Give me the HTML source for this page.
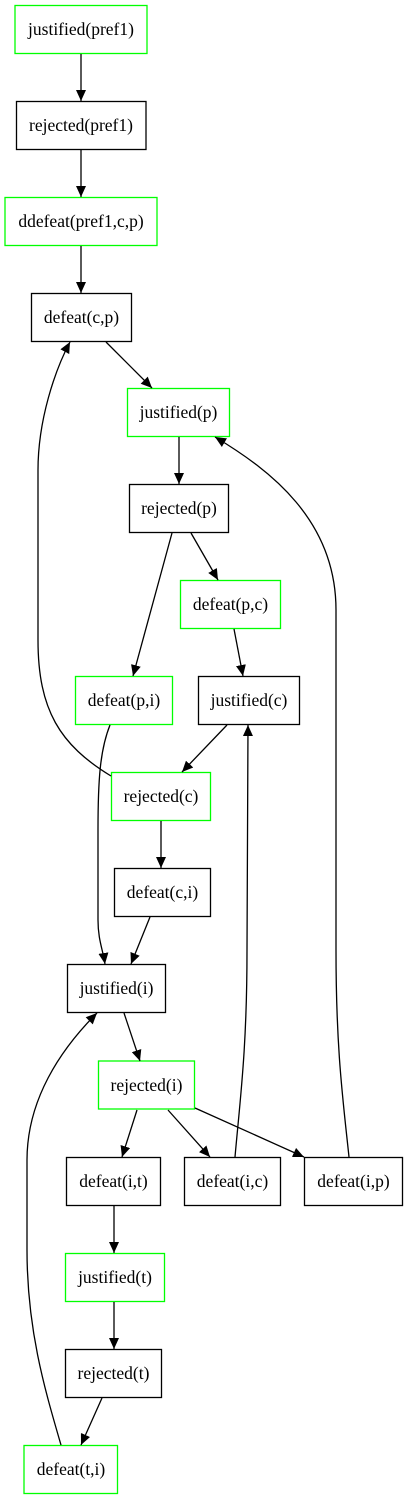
<!DOCTYPE html>
<html><head><meta charset="utf-8"><style>
html,body{margin:0;padding:0;background:#fff;width:407px;height:1499px;overflow:hidden}
svg{display:block}
</style></head><body>
<svg width="407" height="1499" viewBox="0 0 407 1499" xmlns="http://www.w3.org/2000/svg">
<defs>
<marker id="a" markerUnits="userSpaceOnUse" markerWidth="12" markerHeight="10" refX="11" refY="5" orient="auto">
<path d="M0,0 L11,5 L0,10 Z" fill="#000"/>
</marker>
</defs>
<g fill="#fff" stroke-width="1.3">
<rect x="15" y="5.5" width="132" height="48" stroke="#0f0"/>
<rect x="16.5" y="101.5" width="129.5" height="48" stroke="#000"/>
<rect x="5" y="197.5" width="152" height="48" stroke="#0f0"/>
<rect x="31.5" y="293.5" width="100" height="48" stroke="#000"/>
<rect x="127.5" y="388.5" width="102" height="48" stroke="#0f0"/>
<rect x="129.5" y="484.5" width="99" height="48" stroke="#000"/>
<rect x="180.5" y="580.5" width="100" height="48" stroke="#0f0"/>
<rect x="75.5" y="676.5" width="97" height="48" stroke="#0f0"/>
<rect x="198.5" y="676.5" width="101" height="48" stroke="#000"/>
<rect x="111.5" y="772.5" width="99" height="48" stroke="#0f0"/>
<rect x="114.5" y="868.5" width="96" height="48" stroke="#000"/>
<rect x="67.5" y="964.5" width="98" height="48" stroke="#000"/>
<rect x="98.5" y="1061" width="96" height="48" stroke="#0f0"/>
<rect x="66.5" y="1157.5" width="94" height="48" stroke="#000"/>
<rect x="184.5" y="1157.5" width="96" height="48" stroke="#000"/>
<rect x="304.5" y="1157.5" width="98" height="48" stroke="#000"/>
<rect x="65.5" y="1253.5" width="99" height="48" stroke="#0f0"/>
<rect x="65.5" y="1349.5" width="96" height="48" stroke="#000"/>
<rect x="24" y="1445.5" width="93.5" height="48" stroke="#0f0"/>
</g>
<g text-anchor="middle" font-family="Liberation Serif, serif" font-size="17.5" fill="#000">
<text x="81" y="35">justified(pref1)</text>
<text x="81" y="131">rejected(pref1)</text>
<text x="81" y="227">ddefeat(pref1,c,p)</text>
<text x="81.5" y="323">defeat(c,p)</text>
<text x="178.5" y="418">justified(p)</text>
<text x="179" y="514">rejected(p)</text>
<text x="230.5" y="610">defeat(p,c)</text>
<text x="124" y="706">defeat(p,i)</text>
<text x="249" y="706">justified(c)</text>
<text x="161" y="802">rejected(c)</text>
<text x="162.5" y="898">defeat(c,i)</text>
<text x="116.5" y="994">justified(i)</text>
<text x="146.5" y="1091">rejected(i)</text>
<text x="113.5" y="1187">defeat(i,t)</text>
<text x="232.5" y="1187">defeat(i,c)</text>
<text x="353.5" y="1187">defeat(i,p)</text>
<text x="115" y="1283">justified(t)</text>
<text x="113.5" y="1379">rejected(t)</text>
<text x="71" y="1475">defeat(t,i)</text>
</g>
<g fill="none" stroke="#000" stroke-width="1.3" marker-end="url(#a)">
<path d="M81,54 L81,101"/>
<path d="M81,150 L81,197"/>
<path d="M81,246 L81,293"/>
<path d="M106,342 L152,388"/>
<path d="M179,437 L179,484"/>
<path d="M191,533 L218,580"/>
<path d="M172,533 L133,676"/>
<path d="M234,629 L243,676"/>
<path d="M227,725 L182,772"/>
<path d="M111,776 C60,745 38,710 38,640 L38,470 C38,420 55,370 70,342"/>
<path d="M161,821 L161,868"/>
<path d="M150,917 L131,964"/>
<path d="M110,725 C100,750 98,780 98,830 L98,920 C98,940 103,950 105,964"/>
<path d="M124,1013 L140,1061"/>
<path d="M137,1110 L122,1157"/>
<path d="M168,1110 L210,1157"/>
<path d="M195,1108 L304,1157"/>
<path d="M235,1157 C240,1100 247,1050 247,950 L248,725"/>
<path d="M349,1157 C343,1100 336,1050 336,950 L336,610 C336,520 270,470 215,437"/>
<path d="M114,1206 L114,1253"/>
<path d="M114,1302 L114,1349"/>
<path d="M102,1398 L81,1445"/>
<path d="M61,1445 C45,1390 27,1330 27,1250 L27,1160 C27,1100 60,1050 97,1013"/>
</g>
</svg>
</body></html>
